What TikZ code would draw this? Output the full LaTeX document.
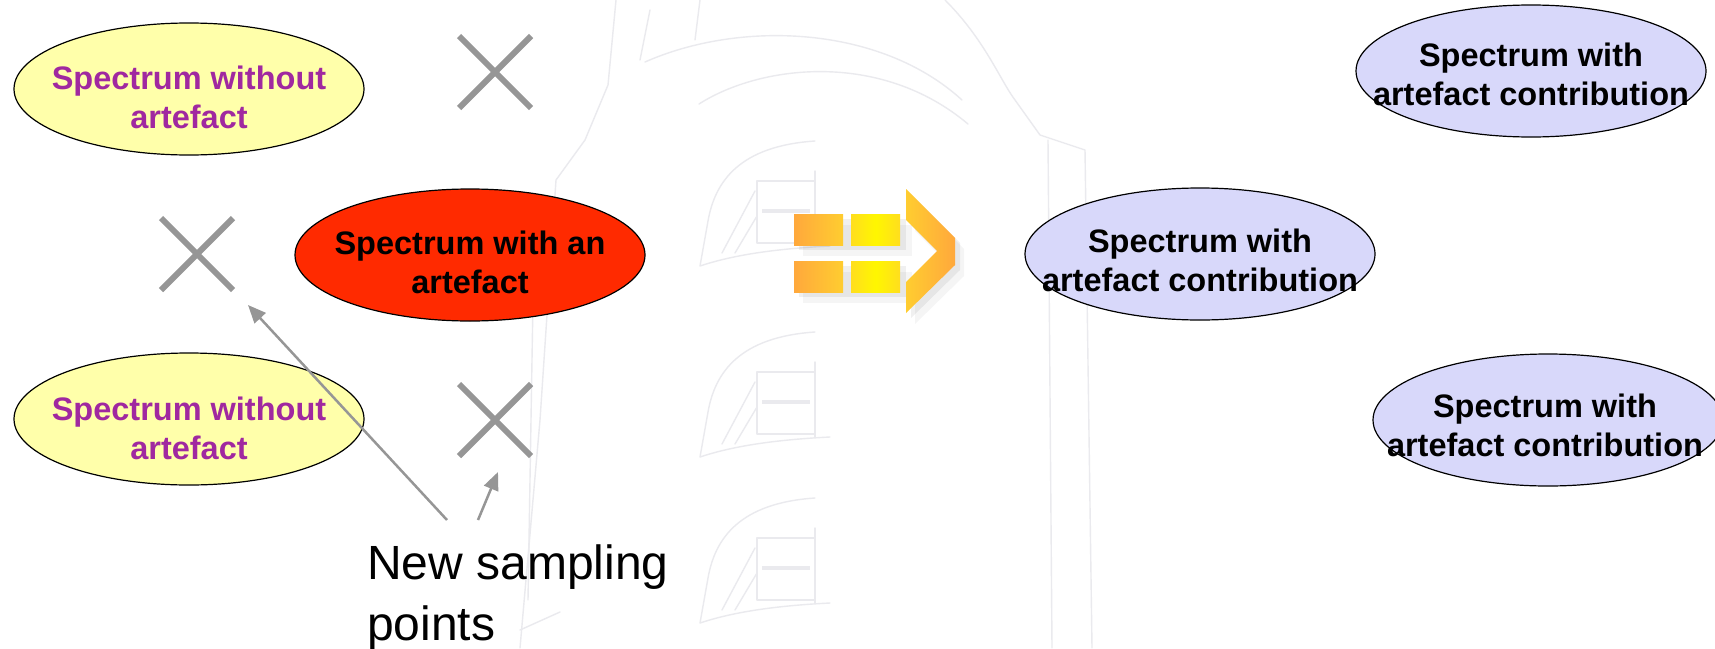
\documentclass[tikz,border=0pt]{standalone}
\usepackage{fontspec}
\setmainfont{Liberation Sans}
\usetikzlibrary{shapes.geometric,shapes.misc,arrows.meta}
\definecolor{yellowfill}{RGB}{255,255,170}
\definecolor{purpletext}{RGB}{160,40,160}
\definecolor{redfill}{RGB}{255,42,0}
\definecolor{lavender}{RGB}{216,216,250}
\definecolor{markgray}{RGB}{150,150,150}
\definecolor{sketch}{RGB}{234,234,238}
\definecolor{orA}{RGB}{255,168,60}
\definecolor{orB}{RGB}{255,205,48}
\definecolor{yeA}{RGB}{255,222,30}
\definecolor{yeB}{RGB}{255,246,0}
\begin{document}
\begin{tikzpicture}[x=1pt,y=-1pt,
  bubble/.style={ellipse, draw=black, line width=1.2pt, minimum width=350pt, minimum height=132pt, inner sep=0pt},
  lbl/.style={align=center, font=\fontsize{32.5}{39}\selectfont\bfseries, inner sep=0pt},
  xmark/.style={cross out, draw=markgray, line width=6pt, minimum width=66pt, minimum height=66pt, inner sep=0pt},
  conn/.style={draw=markgray, line width=2.5pt, -{Triangle[length=18pt,width=15pt]}},
  sk/.style={draw=sketch, line width=1.4pt, line cap=round, line join=round}
]
\useasboundingbox (0,0) rectangle (1715,648);
\clip (0,0) rectangle (1715,648);
\fill[white] (0,0) rectangle (1715,648);

% faint background sketch
\draw[sk] (616,0) -- (608,85) -- (585,140) -- (556,180) -- (540,420) -- (520,648);
\draw[sk] (533,300) -- (528,600);
\draw[sk] (520,630) -- (560,612);
\draw[sk] (945,0) .. controls (985,40) and (1000,80) .. (1015,100) -- (1040,135) -- (1085,150) -- (1092,648);
\draw[sk] (1048,140) -- (1052,648);
\draw[sk] (645,62) .. controls (740,20) and (880,25) .. (962,100);
\draw[sk] (699,104) .. controls (760,65) and (880,50) .. (968,124);
\draw[sk] (650,10) -- (640,60);
\draw[sk] (700,0) -- (695,40);
\foreach \yy in {141,332,498}{
  \draw[sk] (815,\yy) .. controls (740,\yy+5) and (715,\yy+40) .. (708,\yy+80) -- (700,\yy+125) .. controls (730,\yy+115) and (770,\yy+108) .. (830,\yy+105);
  \draw[sk] (757,\yy+40) rectangle (815,\yy+102);
  \draw[sk] (815,\yy+30) -- (815,\yy+105);
  \draw[draw=sketch, line width=4pt] (762,\yy+70) -- (810,\yy+70);
  \draw[sk] (722,\yy+112) -- (755,\yy+50);
  \draw[sk] (735,\yy+112) -- (757,\yy+75);
}

% left column
\node[bubble, fill=yellowfill] (e1) at (189,89) {};
\node[lbl, text=purpletext] (t1) at (189,97) {Spectrum without\\artefact};
\node[bubble, fill=redfill] (e2) at (470,255) {};
\node[lbl, text=black] (t2) at (470,262) {Spectrum with an\\artefact};
\node[bubble, fill=yellowfill] (e3) at (189,419) {};
\node[lbl, text=purpletext] (t3) at (189,428) {Spectrum without\\artefact};

\node[xmark] (x1) at (495,72) {};
\node[xmark] (x2) at (197,254) {};
\node[xmark] (x3) at (495,420) {};

% label and arrows
\node[anchor=north west, align=left, inner sep=0pt, font=\fontsize{48}{61}\selectfont] (np) at (367,545) {New sampling\\points};
\coordinate (s1) at (447,520);
\coordinate (s2) at (478,520);
\coordinate (g1) at (248,305);
\coordinate (g2) at (498,472);
\draw[conn] (s1) -- (g1);
\draw[conn] (s2) -- (g2);

% big block arrow with soft shadow
\fill[black, opacity=0.04] (803,225) rectangle (912,256);
\fill[black, opacity=0.04] (803,272) rectangle (912,303);
\fill[black, opacity=0.04] (915,200) -- (964,249) -- (964,276) -- (915,324) -- (915,293) -- (946,262) -- (915,231) -- cycle;
\fill[black, opacity=0.06] (799,219) rectangle (906,250);
\fill[black, opacity=0.06] (799,266) rectangle (906,297);
\fill[black, opacity=0.06] (911,194) -- (960,243) -- (960,270) -- (911,318) -- (911,287) -- (942,256) -- (911,225) -- cycle;
\shade[left color=orA, right color=orB] (794,214) rectangle (843,245);
\shade[left color=orA, right color=orB] (794,261) rectangle (843,292);
\shade[left color=yeA, right color=yeA, middle color=yeB] (851,214) rectangle (900,245);
\shade[left color=yeA, right color=yeA, middle color=yeB] (851,261) rectangle (900,292);
\shade[left color=orB, right color=orA] (906,189) -- (955,238) -- (955,265) -- (906,313) -- (906,282) -- (937,251) -- (906,220) -- cycle;

% right column
\node[bubble, fill=lavender] (r1) at (1531,71) {};
\node[lbl] (u1) at (1531,74) {Spectrum with\\artefact contribution};
\node[bubble, fill=lavender] (r2) at (1200,254) {};
\node[lbl] (u2) at (1200,260) {Spectrum with\\artefact contribution};
\node[bubble, fill=lavender] (r3) at (1548,420) {};
\node[lbl] (u3) at (1545,425) {Spectrum with\\artefact contribution};
\end{tikzpicture}
\end{document}
